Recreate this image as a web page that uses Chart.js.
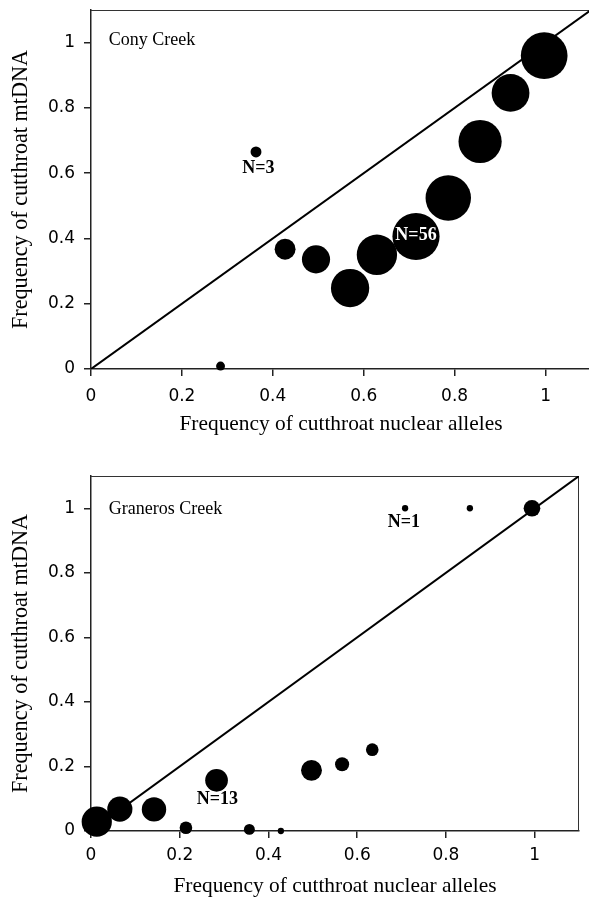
<!DOCTYPE html>
<html>
<head>
<meta charset="utf-8">
<script src="https://cdn.jsdelivr.net/npm/chart.js@4/dist/chart.umd.min.js"></script>
<style>
html, body { margin: 0; padding: 0; background: #fff; overflow: hidden; }
.box { position: relative; }
</style>
</head>
<body>
<div class="box" style="width:591px;height:450px"><canvas id="cony"></canvas></div>
<div class="box" style="width:589px;height:447px"><canvas id="graneros"></canvas></div>
<script>
// tick values on both axes, both panels
const tickValues = [0, 0.2, 0.4, 0.6, 0.8, 1];
const axisMax = 1.1;
const xTitle = "Frequency of cutthroat nuclear alleles";
const yTitle = "Frequency of cutthroat mtDNA";

// Cony Creek: nuclear allele freq, mtDNA freq, sample size N
const conyNuclear = [0.285, 0.363, 0.427, 0.495, 0.570, 0.629, 0.715, 0.786, 0.856, 0.923, 0.997];
const conyMtdna   = [0.009, 0.665, 0.367, 0.336, 0.248, 0.350, 0.406, 0.524, 0.697, 0.846, 0.960];
const conyN       = [2, 3, 11, 20, 37, 41, 56, 52, 47, 36, 55];

// Graneros Creek
const granNuclear = [0.013, 0.065, 0.142, 0.214, 0.283, 0.357, 0.428, 0.497, 0.566, 0.634, 0.708, 0.854, 0.994];
const granMtdna   = [0.029, 0.068, 0.067, 0.010, 0.157, 0.005, 0.000, 0.188, 0.207, 0.252, 1.0, 1.0, 1.0];
const granN       = [23, 16, 15, 4, 13, 3, 1, 11, 5, 4, 1, 1, 7];

const diagonal = [0, 1.1];

const serif = "'Liberation Serif', 'Times New Roman', serif";
const sans = "'DejaVu Sans', Verdana, sans-serif";

const frame = {
	id: 'frame',
	beforeDatasetsDraw(chart) {
		const a = chart.chartArea, ctx = chart.ctx;
		ctx.save();
		ctx.strokeStyle = '#333';
		ctx.lineWidth = 1;
		ctx.beginPath();
		ctx.moveTo(a.left, a.top + 0.5);
		ctx.lineTo(a.right - 0.5, a.top + 0.5);
		ctx.lineTo(a.right - 0.5, a.bottom);
		ctx.stroke();
		ctx.restore();
	}
};

function notes(items) {
	return {
		id: 'notes',
		afterDatasetsDraw(chart) {
			const ctx = chart.ctx, sx = chart.scales.x, sy = chart.scales.y;
			ctx.save();
			ctx.textBaseline = 'middle';
			items.forEach(n => {
				ctx.font = n.font;
				ctx.fillStyle = n.color || '#000';
				ctx.textAlign = n.align || 'center';
				ctx.fillText(n.text, sx.getPixelForValue(n.x), sy.getPixelForValue(n.y));
			});
			ctx.restore();
		}
	};
}

function panel(id, xs, ys, ns, pad, xHeight, tickPad, titlePad, labels) {
	const setTicks = s => { s.ticks = tickValues.map(v => ({value: v})); };
	new Chart(document.getElementById(id).getContext('2d'), {
		type: 'bubble',
		data: {
			datasets: [
				{
					type: 'line',
					data: diagonal.map(v => ({x: v, y: v})),
					borderColor: '#000',
					borderWidth: 2,
					pointRadius: 0,
					fill: false
				},
				{
					data: xs.map((v, i) => ({x: v, y: ys[i], r: 3.15 * Math.sqrt(ns[i])})),
					backgroundColor: '#000',
					borderColor: '#000',
					borderWidth: 0,
					clip: false
				}
			]
		},
		options: {
			responsive: true,
			maintainAspectRatio: false,
			animation: false,
			events: [],
			layout: {padding: pad, autoPadding: false},
			plugins: {legend: {display: false}, tooltip: {enabled: false}},
			scales: {
				x: {
					type: 'linear', min: 0, max: axisMax,
					afterBuildTicks: setTicks,
					afterFit: s => { s.height = xHeight; s.paddingLeft = 0; s.paddingRight = 0; },
					grid: {drawOnChartArea: false, tickLength: 7, color: '#222', lineWidth: 1.5},
					border: {color: '#222', width: 1.5},
					ticks: {color: '#000', padding: tickPad, font: {family: sans, size: 17}, callback: v => String(v)},
					title: {display: true, text: xTitle, color: '#000',
						font: {family: serif, size: 21.4, lineHeight: 1}, padding: {top: 0, bottom: titlePad}}
				},
				y: {
					type: 'linear', min: 0, max: axisMax,
					afterBuildTicks: setTicks,
					afterFit: s => { s.width = 91; s.paddingTop = 0; s.paddingBottom = 0; },
					grid: {drawOnChartArea: false, tickLength: 7, color: '#222', lineWidth: 1.5},
					border: {color: '#222', width: 1.5},
					ticks: {color: '#000', padding: 9, font: {family: sans, size: 17}, callback: v => String(v)},
					title: {display: true, text: yTitle, color: '#000',
						font: {family: serif, size: 22.2, lineHeight: 1}, padding: {top: 10, bottom: 0}}
				}
			}
		},
		plugins: [frame, notes(labels)]
	});
}

panel('cony', conyNuclear, conyMtdna, conyN, {left: 0, top: 10, right: 0, bottom: 0}, 81, 10, 15, [
	{text: 'Cony Creek', x: 0.039, y: 1.006, align: 'left', font: '18px ' + serif},
	{text: 'N=3', x: 0.368, y: 0.616, font: 'bold 18px ' + serif},
	{text: 'N=56', x: 0.715, y: 0.408, font: 'bold 18px ' + serif, color: '#fff'}
]);

panel('graneros', granNuclear, granMtdna, granN, {left: 0, top: 26, right: 10, bottom: 0}, 66, 7, 0, [
	{text: 'Graneros Creek', x: 0.04, y: 0.996, align: 'left', font: '18px ' + serif},
	{text: 'N=1', x: 0.705, y: 0.955, font: 'bold 18px ' + serif},
	{text: 'N=13', x: 0.285, y: 0.098, font: 'bold 18px ' + serif}
]);
</script>
</body>
</html>
